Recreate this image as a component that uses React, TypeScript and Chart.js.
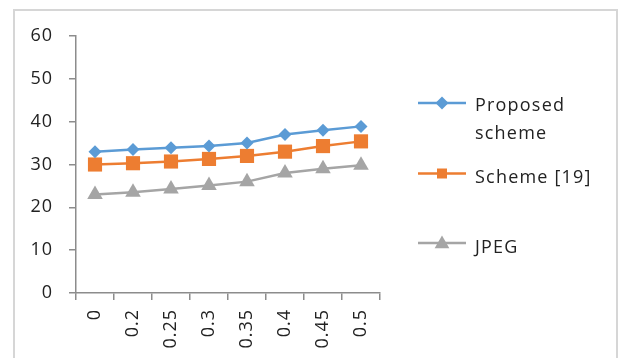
import React, { useEffect, useRef } from 'react';
import { Chart, registerables } from 'chart.js';
Chart.register(...registerables);

const categories = ['0', '0.2', '0.25', '0.3', '0.35', '0.4', '0.45', '0.5'];
const proposed = [33, 33.5, 33.9, 34.3, 35, 37, 38, 38.9];
const scheme19 = [30, 30.3, 30.7, 31.3, 32, 33, 34.3, 35.4];
const jpeg = [23, 23.5, 24.3, 25.1, 26, 28, 29, 29.8];
const yTickMin = 0;
const yTickMax = 60;
const yTickStep = 10;
const legendLabels = [['Proposed', 'scheme'], ['Scheme [19]'], ['JPEG']];

const BLUE = '#5B9BD5';
const ORANGE = '#ED7D31';
const GRAY = '#A5A5A5';
const TEXT = '#222222';
const AXIS = '#8c8c8c';
const FONT = '"Open Sans", sans-serif';

function drawMarker(ctx: CanvasRenderingContext2D, style: string, x: number, y: number, r: number, color: string) {
  ctx.save();
  ctx.fillStyle = color;
  ctx.beginPath();
  if (style === 'rectRot') {
    ctx.moveTo(x - r, y);
    ctx.lineTo(x, y - r);
    ctx.lineTo(x + r, y);
    ctx.lineTo(x, y + r);
  } else if (style === 'rect') {
    ctx.rect(x - r, y - r, 2 * r, 2 * r);
  } else {
    const h = r * Math.sqrt(3) / 2;
    ctx.moveTo(x, y - r);
    ctx.lineTo(x + h, y + r / 2);
    ctx.lineTo(x - h, y + r / 2);
  }
  ctx.closePath();
  ctx.fill();
  ctx.restore();
}

const spacingPlugin = {
  id: 'spacing',
  beforeUpdate(chart: any) { chart.ctx.letterSpacing = '1px'; },
  beforeLayout(chart: any) { chart.ctx.letterSpacing = '1px'; },
  beforeDraw(chart: any) { chart.ctx.letterSpacing = '1px'; },
};

const legendPlugin = {
  id: 'customLegend',
  afterDraw(chart: any) {
    const ctx: CanvasRenderingContext2D = chart.ctx;
    const items = [
      { y: 103, baselines: [110.5, 139], style: 'rectRot', r: 6.5 },
      { y: 173.5, baselines: [182.5], style: 'rect', r: 5 },
      { y: 243, baselines: [252.5], style: 'triangle', r: 8.5 },
    ];
    ctx.save();
    (ctx as any).letterSpacing = '1.2px';
    items.forEach((it, i) => {
      const ds = chart.data.datasets[i];
      ctx.strokeStyle = ds.borderColor;
      ctx.lineWidth = 2.5;
      ctx.beginPath();
      ctx.moveTo(418, it.y);
      ctx.lineTo(466, it.y);
      ctx.stroke();
      drawMarker(ctx, it.style, 442, it.style === 'triangle' ? it.y + 1 : it.y, it.r, ds.borderColor);
      ctx.fillStyle = TEXT;
      ctx.font = `18px ${FONT}`;
      ctx.textAlign = 'left';
      ctx.textBaseline = 'alphabetic';
      legendLabels[i].forEach((t, j) => ctx.fillText(t, 475, it.baselines[j]));
    });
    ctx.restore();
  },
};

export default function App() {
  const ref = useRef<HTMLCanvasElement>(null);
  useEffect(() => {
    if (!ref.current) return;
    const chart = new Chart(ref.current, {
      type: 'line',
      data: {
        labels: categories,
        datasets: [
          {
            label: legendLabels[0].join(' '),
            data: proposed,
            borderColor: BLUE,
            backgroundColor: BLUE,
            borderWidth: 2.5,
            pointStyle: 'rectRot',
            pointRadius: 6.5,
            pointBorderWidth: 0,
          },
          {
            label: legendLabels[1].join(' '),
            data: scheme19,
            borderColor: ORANGE,
            backgroundColor: ORANGE,
            borderWidth: 2.5,
            pointStyle: 'rect',
            pointRadius: 10,
            pointBorderWidth: 0,
          },
          {
            label: legendLabels[2].join(' '),
            data: jpeg,
            borderColor: GRAY,
            backgroundColor: GRAY,
            borderWidth: 2.5,
            pointStyle: 'triangle',
            pointRadius: 9,
            pointBorderWidth: 0,
          },
        ],
      },
      options: {
        animation: false,
        responsive: false,
        layout: { padding: { left: 0, top: 36, right: 238, bottom: 0 } },
        plugins: { legend: { display: false }, tooltip: { enabled: false } },
        scales: {
          x: {
            offset: true,
            grid: { offset: true, drawOnChartArea: false, tickLength: 7, color: AXIS, lineWidth: 1.5 },
            border: { color: AXIS, width: 1.5 },
            ticks: {
              minRotation: 90,
              maxRotation: 90,
              autoSkip: false,
              padding: 9,
              color: TEXT,
              font: { family: FONT, size: 18 },
            },
            afterFit: (s: any) => { s.height = 65; },
          },
          y: {
            min: yTickMin,
            max: yTickMax,
            grid: { drawOnChartArea: false, tickLength: 7, color: AXIS, lineWidth: 1.5 },
            border: { color: AXIS, width: 1.5 },
            ticks: {
              stepSize: yTickStep,
              padding: 16,
              color: TEXT,
              font: { family: FONT, size: 18 },
            },
            afterFit: (s: any) => { s.width = 76; },
          },
        },
      },
      plugins: [spacingPlugin, legendPlugin],
    } as any);
    return () => chart.destroy();
  }, []);
  return (
    <div style={{ position: 'absolute', left: 0, top: 0, width: 618, height: 358, overflow: 'hidden', background: '#fff' }}>
      <div style={{ position: 'absolute', left: 13, top: 9, width: 601, height: 400, border: '2px solid #d6d6d6' }} />
      <canvas ref={ref} width={618} height={358} style={{ position: 'absolute', left: 0, top: 0 }} />
    </div>
  );
}
